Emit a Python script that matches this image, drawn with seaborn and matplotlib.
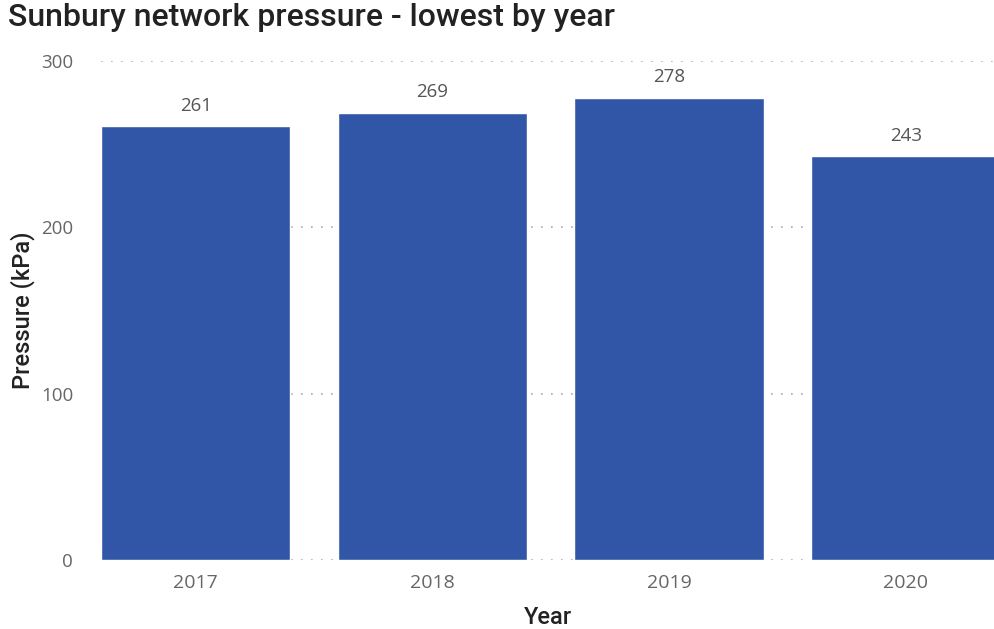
import matplotlib
matplotlib.use("Agg")
import matplotlib.pyplot as plt
import seaborn as sns
import pandas as pd

years = ["2017", "2018", "2019", "2020"]
pressure = [261, 269, 278, 243]
yticks = [0, 100, 200, 300]

sns.set_style("white")
plt.rcParams['font.family'] = ['Open Sans', 'DejaVu Sans']

df = pd.DataFrame({"Year": years, "Pressure": pressure})

fig = plt.figure(figsize=(9.94, 6.29), dpi=100)
ax = fig.add_axes([0.1016, 0.1097, 0.8984, 0.7933])

sns.barplot(data=df, x="Year", y="Pressure", order=years, color="#3256A7",
            saturation=1, width=0.8, ax=ax, zorder=3)

for c in ax.containers:
    ax.bar_label(c, labels=[str(v) for v in pressure], padding=8,
                 fontsize=13.5, color="#555555")

ax.set_ylim(0, 300)
ax.set_xlim(-0.4, 3.373)
ax.set_yticks(yticks)
ax.set_yticklabels([str(t) for t in yticks])
ax.yaxis.grid(True, linestyle=(0, (1, 5)), color="#AAAAAA", linewidth=1.2, zorder=0)
ax.set_axisbelow(True)
for s in ax.spines.values():
    s.set_visible(False)
ax.tick_params(axis='both', length=0, labelsize=14, colors="#666666")
ax.tick_params(axis='y', pad=20, labelsize=13.5)
ax.tick_params(axis='x', pad=10)
ax.set_xlabel("Year", fontsize=17, color="#222222", labelpad=10,
              family=["Roboto", "DejaVu Sans"], fontweight="medium")
ax.set_ylabel("Pressure (kPa)", fontsize=17, color="#222222", labelpad=4,
              family=["Roboto", "DejaVu Sans"], fontweight="medium")

fig.text(0.008, 0.972, "Sunbury network pressure - lowest by year", fontsize=23,
         color="#222222", ha="left", va="center", family=["Roboto", "DejaVu Sans"],
         fontweight="medium")

fig.savefig("out.png", dpi=100)
